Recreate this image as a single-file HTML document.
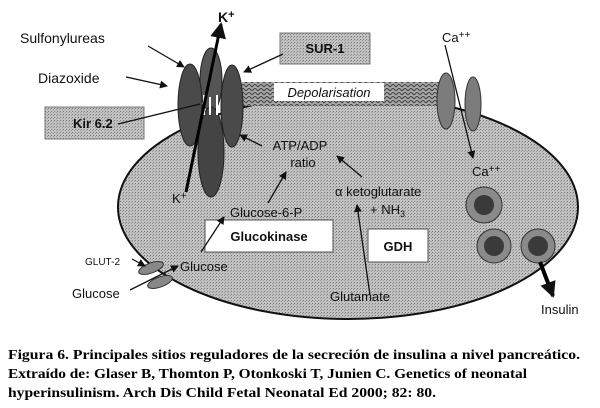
<!DOCTYPE html>
<html><head><style>
html,body{margin:0;padding:0;background:#fff;}
svg{display:block;}
.s{font-family:"Liberation Sans",sans-serif;fill:#111;}
.c{font-family:"Liberation Serif",serif;font-weight:bold;font-size:14px;fill:#000;}
</style></head><body>
<svg width="600" height="408" viewBox="0 0 600 408" xmlns="http://www.w3.org/2000/svg">
<defs>
<pattern id="dots" width="3" height="3" patternUnits="userSpaceOnUse">
<rect width="3" height="3" fill="#c2c2c2"/><rect width="1" height="1" fill="#7a7a7a"/><rect x="2" y="1" width="1" height="1" fill="#9a9a9a"/>
</pattern>
<pattern id="hatch" width="6" height="4" patternUnits="userSpaceOnUse">
<rect width="6" height="4" fill="#a8a8a8"/><path d="M0 3 L3 0 L6 3" stroke="#444" fill="none" stroke-width="1"/>
</pattern>
<marker id="ah" markerWidth="8" markerHeight="8" refX="7" refY="4" orient="auto" markerUnits="userSpaceOnUse"><path d="M0 0 L8 4 L0 8 Z" fill="#111"/></marker>
<marker id="ab" markerWidth="16" markerHeight="16" refX="14" refY="8" orient="auto" markerUnits="userSpaceOnUse"><path d="M0 0 L16 8 L0 16 Z" fill="#111"/></marker>
</defs>
<ellipse cx="348" cy="207" rx="230" ry="112" fill="url(#dots)" stroke="#111" stroke-width="2"/>
<rect x="242" y="82" width="198" height="24" fill="url(#hatch)"/>
<rect x="274" y="83" width="110" height="18" fill="#fff"/>
<text x="329" y="97" class="s" font-size="13" font-style="italic" text-anchor="middle">Depolarisation</text>
<ellipse cx="446" cy="101" rx="9" ry="28" fill="#7c7c7c" stroke="#333"/>
<ellipse cx="473" cy="104" rx="8" ry="27" fill="#7c7c7c" stroke="#333"/>
<line x1="445" y1="45" x2="473" y2="158" stroke="#111" stroke-width="1.3" marker-end="url(#ah)"/>
<text x="442" y="42" class="s" font-size="13">Ca<tspan font-size="10" dy="-4">++</tspan></text>
<text x="472" y="176" class="s" font-size="13">Ca<tspan font-size="10" dy="-4">++</tspan></text>
<ellipse cx="211" cy="80" rx="11" ry="32" fill="#555" stroke="#222"/>
<ellipse cx="190" cy="105" rx="12" ry="41" fill="#4a4a4a" stroke="#222"/>
<ellipse cx="232" cy="106" rx="11" ry="41" fill="#4a4a4a" stroke="#222"/>
<ellipse cx="211" cy="152" rx="13" ry="45" fill="#444" stroke="#222"/>
<rect x="203" y="95" width="2" height="20" fill="#fff"/><rect x="209" y="97" width="2" height="18" fill="#fff"/><rect x="216" y="95" width="2" height="20" fill="#fff"/>
<line x1="186" y1="192" x2="221" y2="24" stroke="#000" stroke-width="3" marker-end="url(#ab)"/>
<text x="218" y="22" class="s" font-size="14" font-weight="bold">K<tspan font-size="11" dy="-4">+</tspan></text>
<text x="172" y="203" class="s" font-size="13">K<tspan font-size="10" dy="-4">+</tspan></text>
<text x="20" y="43" class="s" font-size="14">Sulfonylureas</text>
<line x1="148" y1="46" x2="184" y2="67" stroke="#111" stroke-width="1.3" marker-end="url(#ah)"/>
<text x="38" y="83" class="s" font-size="14">Diazoxide</text>
<line x1="126" y1="77" x2="167" y2="86" stroke="#111" stroke-width="1.3" marker-end="url(#ah)"/>
<rect x="45" y="107" width="99" height="32" fill="url(#dots)" stroke="#777"/>
<text x="73" y="128" class="s" font-size="13" font-weight="bold">Kir 6.2</text>
<line x1="118" y1="124" x2="200" y2="104" stroke="#111" stroke-width="1.3"/>
<rect x="280" y="33" width="90" height="31" fill="url(#dots)" stroke="#777"/>
<text x="325" y="53" class="s" font-size="13" font-weight="bold" text-anchor="middle">SUR-1</text>
<line x1="283" y1="54" x2="244" y2="72" stroke="#111" stroke-width="1.3" marker-end="url(#ah)"/>
<text x="300" y="150" class="s" font-size="13" text-anchor="middle">ATP/ADP</text>
<text x="303" y="167" class="s" font-size="13" text-anchor="middle">ratio</text>
<line x1="262" y1="146" x2="240" y2="135" stroke="#111" stroke-width="1.3" marker-end="url(#ah)"/>
<text x="230" y="217" class="s" font-size="13">Glucose-6-P</text>
<line x1="268" y1="203" x2="286" y2="172" stroke="#111" stroke-width="1.3" marker-end="url(#ah)"/>
<line x1="362" y1="177" x2="337" y2="156" stroke="#111" stroke-width="1.3" marker-end="url(#ah)"/>
<text x="335" y="196" class="s" font-size="13">α ketoglutarate</text>
<text x="370" y="214" class="s" font-size="13">+ NH<tspan font-size="9" dy="3">3</tspan></text>
<rect x="205" y="220" width="128" height="32" fill="#fff" stroke="#555"/>
<text x="269" y="241" class="s" font-size="13" font-weight="bold" text-anchor="middle">Glucokinase</text>
<rect x="368" y="229" width="60" height="33" fill="#fff" stroke="#555"/>
<text x="398" y="251" class="s" font-size="13" font-weight="bold" text-anchor="middle">GDH</text>
<line x1="201" y1="252" x2="224" y2="217" stroke="#111" stroke-width="1.3" marker-end="url(#ah)"/>
<line x1="370" y1="295" x2="357" y2="205" stroke="#111" stroke-width="1.3" marker-end="url(#ah)"/>
<text x="330" y="301" class="s" font-size="13">Glutamate</text>
<ellipse cx="151" cy="268" rx="13" ry="5" transform="rotate(-20 151 268)" fill="#888" stroke="#333"/>
<ellipse cx="160" cy="282" rx="13" ry="5" transform="rotate(-20 160 282)" fill="#888" stroke="#333"/>
<text x="85" y="265" class="s" font-size="10">GLUT-2</text>
<line x1="132" y1="259" x2="145" y2="266" stroke="#111" stroke-width="1.2" marker-end="url(#ah)"/>
<line x1="130" y1="290" x2="178" y2="266" stroke="#111" stroke-width="1.3" marker-end="url(#ah)"/>
<text x="180" y="271" class="s" font-size="13">Glucose</text>
<text x="72" y="298" class="s" font-size="13">Glucose</text>
<circle cx="484" cy="205" r="18" fill="#8a8a8a" stroke="#333"/><circle cx="484" cy="205" r="10" fill="#3a3a3a"/>
<circle cx="494" cy="246" r="17" fill="#8a8a8a" stroke="#333"/><circle cx="494" cy="246" r="10" fill="#3a3a3a"/>
<circle cx="538" cy="246" r="17" fill="#8a8a8a" stroke="#333"/><circle cx="538" cy="246" r="10" fill="#3a3a3a"/>
<line x1="540" y1="262" x2="553" y2="296" stroke="#000" stroke-width="4" marker-end="url(#ab)"/>
<text x="541" y="314" class="s" font-size="13">Insulin</text>
<text x="8" y="359" class="c" textLength="572" lengthAdjust="spacingAndGlyphs">Figura 6. Principales sitios reguladores de la secreción de insulina a nivel pancreático.</text>
<text x="8" y="378" class="c" textLength="519" lengthAdjust="spacingAndGlyphs">Extraído de: Glaser B, Thomton P, Otonkoski T, Junien C. Genetics of neonatal</text>
<text x="8" y="397" class="c" textLength="428" lengthAdjust="spacingAndGlyphs">hyperinsulinism. Arch Dis Child Fetal Neonatal Ed 2000; 82: 80.</text>
</svg>
</body></html>
